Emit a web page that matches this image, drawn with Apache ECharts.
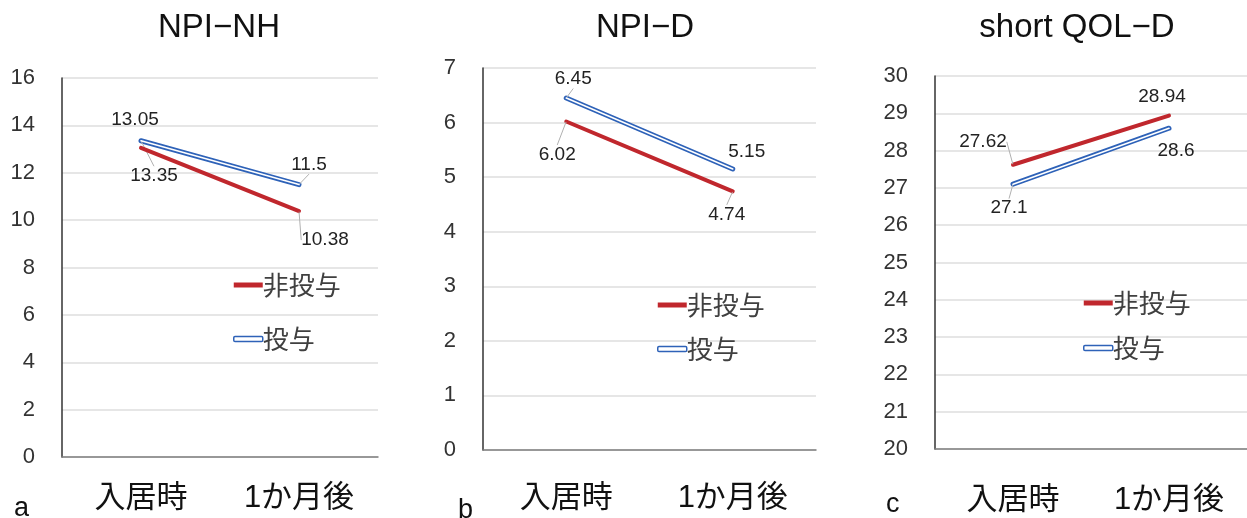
<!DOCTYPE html>
<html>
<head>
<meta charset="utf-8">
<script src="https://cdn.jsdelivr.net/npm/echarts@6/dist/echarts.min.js"></script>
<style>
  html, body { margin: 0; padding: 0; background: #fff; }
  #chart { width: 1247px; height: 518px; }
</style>
</head>
<body>
<div id="chart"></div>
<script>
// data
const categories = ['入居時', '1か月後'];
const panelTitles = ['NPI\u2212NH', 'NPI\u2212D', 'short QOL\u2212D'];
const panelLetters = ['a', 'b', 'c'];
const seriesNames = ['非投与', '投与'];

const npiNhNonDosed = [13.05, 10.38];
const npiNhDosed = [13.35, 11.5];
const npiDNonDosed = [6.02, 4.74];
const npiDDosed = [6.45, 5.15];
const qolNonDosed = [27.62, 28.94];
const qolDosed = [27.1, 28.6];

const yMins = [0, 0, 20];
const yMaxs = [16, 7, 30];
const yIntervals = [2, 1, 1];

// layout / style
const RED = '#c0272d';
const BLUE = '#2e62b8';
const FONT = '"Liberation Sans", "Noto Sans CJK JP", sans-serif';
const JP_FONT = '"Noto Sans CJK JP", sans-serif';

const grids = [
  { left: 62, top: 78, width: 316, height: 379 },
  { left: 483, top: 68, width: 333, height: 382 },
  { left: 935, top: 76, width: 312, height: 373 }
];
const titleCenters = [214, 640, 1072];
const letterPos = [[9, 490], [453, 492], [881, 486]];
const legendPos = [[233, 272], [657, 292], [1083, 290]];
const legendGaps = [28, 18, 19];
const xLabelMargins = [26, 33, 36];

// label offsets (label centre minus point), per panel: [nonDosed, dosed]
const labelShift = [
  [[[-6, -28], [26, 29]], [[13, 35], [10, -20]]],
  [[[-9, 33], [-6, 23]], [[7, -19], [14, -17]]],
  [[[-30, -23], [-7, -19]], [[-4, 24], [7, 23]]]
];
// which labels get a leader line
const leaderShown = [
  [[false, true], [true, true]],
  [[true, true], [true, false]],
  [[true, false], [true, false]]
];

const panelData = [
  [npiNhNonDosed, npiNhDosed],
  [npiDNonDosed, npiDDosed],
  [qolNonDosed, qolDosed]
];

const chart = echarts.init(document.getElementById('chart'));

const title = [];
const legend = [];
const xAxis = [];
const yAxis = [];
const series = [];

grids.forEach((g, i) => {
  title.push({
    text: panelTitles[i],
    left: titleCenters[i],
    top: 6,
    textAlign: 'center',
    textStyle: { fontFamily: FONT, fontSize: 33, fontWeight: 'normal', color: '#111' }
  });
  title.push({
    text: panelLetters[i],
    left: letterPos[i][0],
    top: letterPos[i][1],
    textStyle: { fontFamily: FONT, fontSize: 27, fontWeight: 'normal', color: '#111' }
  });
  legend.push({
    left: legendPos[i][0],
    top: legendPos[i][1],
    padding: 0,
    orient: 'vertical',
    itemGap: legendGaps[i],
    itemWidth: 29,
    itemHeight: 5,
    selectedMode: false,
    textStyle: { fontFamily: JP_FONT, fontSize: 26, color: '#404040', padding: [0, 0, 0, -5] },
    data: [
      { name: seriesNames[0], icon: 'rect', itemStyle: { color: RED } },
      { name: seriesNames[1], icon: 'roundRect', itemStyle: { color: '#fff', borderColor: BLUE, borderWidth: 1.5 } }
    ]
  });
  xAxis.push({
    type: 'category',
    gridIndex: i,
    data: categories,
    boundaryGap: true,
    axisLine: { lineStyle: { color: '#7f7f7f', width: 1.5 } },
    axisTick: { show: false },
    axisLabel: { fontFamily: FONT, fontSize: 31, color: '#111', margin: xLabelMargins[i] }
  });
  yAxis.push({
    type: 'value',
    gridIndex: i,
    min: yMins[i],
    max: yMaxs[i],
    interval: yIntervals[i],
    axisLine: { show: true, lineStyle: { color: '#333', width: 1.5 } },
    axisTick: { show: false },
    splitLine: { lineStyle: { color: '#dedede', width: 1.5 } },
    axisLabel: { fontFamily: FONT, fontSize: 22, color: '#333', margin: 27 }
  });

  const colors = [RED, BLUE];
  [0, 1].forEach(s => {
    const shift = labelShift[i][s];
    series.push({
      name: seriesNames[s],
      type: 'line',
      xAxisIndex: i,
      yAxisIndex: i,
      data: panelData[i][s].map((v, k) => ({
        value: v,
        labelLine: { show: leaderShown[i][s][k] }
      })),
      symbol: 'circle',
      symbolSize: 1,
      itemStyle: { color: colors[s] },
      lineStyle: { color: colors[s], width: s === 0 ? 4 : 5, cap: 'round' },
      label: {
        show: true,
        position: 'inside',
        fontFamily: FONT,
        fontSize: 19,
        color: '#222'
      },
      labelLine: { show: true, lineStyle: { color: '#b0b0b0', width: 1 } },
      labelLayout: p => ({ dx: shift[p.dataIndex][0], dy: shift[p.dataIndex][1] }),
      z: s === 0 ? 3 : 2
    });
    if (s === 1) {
      // white core of the double line
      series.push({
        name: 'core' + i,
        type: 'line',
        xAxisIndex: i,
        yAxisIndex: i,
        data: panelData[i][s],
        symbol: 'none',
        silent: true,
        lineStyle: { color: '#fff', width: 1.6, cap: 'round' },
        z: 4
      });
    }
  });
});

chart.setOption({
  animation: false,
  title: title,
  legend: legend,
  grid: grids,
  xAxis: xAxis,
  yAxis: yAxis,
  series: series
});
</script>
</body>
</html>
